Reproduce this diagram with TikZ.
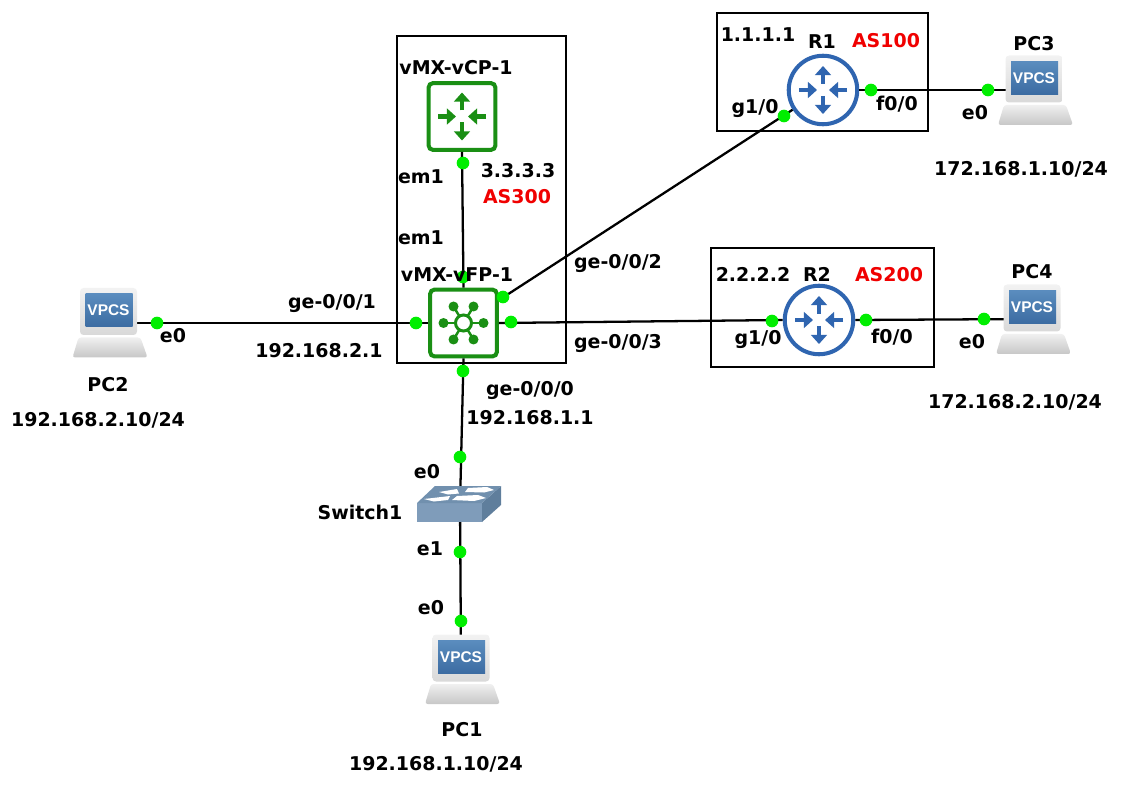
\documentclass[tikz,border=0pt]{standalone}
\usepackage{fontspec}
\setmainfont{DejaVu Sans}
\newfontfamily\screenfont{Liberation Sans}
\usetikzlibrary{arrows.meta}
\definecolor{portgreen}{HTML}{00EE00}
\definecolor{vmxgreen}{HTML}{1A8F14}
\definecolor{routerblue}{HTML}{2F65B0}
\definecolor{asred}{HTML}{F00000}
\definecolor{screentop}{HTML}{5A8CBE}
\definecolor{screenlow}{HTML}{3C6CA2}
\definecolor{swtop}{HTML}{7190AE}
\definecolor{swfront}{HTML}{7F9CBA}
\definecolor{swside}{HTML}{5F7E9C}
\tikzset{
    > = latex,
    link/.style={line width=1.3pt, black},
    port/.style={circle, fill=portgreen, inner sep=0, minimum size=7.2pt},
    lbl/.style={font=\fontsize{10.8}{13}\selectfont\bfseries, inner sep=0},
    aslbl/.style={lbl, text=asred},
    frame/.style={draw=black, line width=1.1pt},
    flow/.style={-{Triangle[length=5.2pt,width=9pt]}, line width=2.6pt},
    vmxbox/.style={draw=vmxgreen, fill=white, line width=2.3pt, rounded corners=2.5pt, minimum size=38pt, inner sep=0},
    routerbody/.style={circle, draw=routerblue, fill=white, line width=2.3pt, minimum size=39pt, inner sep=0},
    arrowcross/.pic={
        \draw[flow] (0,-6) -- (0,-24);
        \draw[flow] (0,6) -- (0,24);
        \draw[flow] (-24,0) -- (-6,0);
        \draw[flow] (24,0) -- (6,0);
    },
    hub/.pic={
        \foreach \a/\b in {-20/0,20/0,-10/-16.5,10/-16.5,-10/16.5,10/16.5} {
            \draw[vmxgreen, line width=1.4pt] (0,0) -- (\a,\b);
            \fill[vmxgreen] (\a,\b) circle (5);
        }
        \draw[vmxgreen, fill=white, line width=1.7pt] (0,0) circle (8);
    },
    vpcs/.pic={
        \shade[top color=black!6, bottom color=black!22, rounded corners=1.5pt] (-30,26) -- (32,26) -- (39,46) -- (-36,46) -- cycle;
        \shade[top color=black!5, bottom color=black!15, rounded corners=2pt] (-28.5,-23.5) rectangle (28.5,23.5);
        \shade[top color=screentop, bottom color=screenlow] (-23,-17.5) rectangle (24,15.5);
        \node[white, font=\screenfont\fontsize{8.8}{10}\selectfont\bfseries, inner sep=0] at (0,-1) {VPCS};
    },
    switchicon/.pic={
        \fill[swfront] (-43,-2) -- (22,-2) -- (22,17) -- (-43,17) -- cycle;
        \fill[swside] (22,-2) -- (41,-19) -- (41,0) -- (22,17) -- cycle;
        \fill[swtop] (-25,-19) -- (41,-19) -- (22,-2) -- (-43,-2) -- cycle;
        \fill[white] (-3,-16) -- (-21,-13) -- (-12,-10.5) -- (-1,-11.5) -- cycle;
        \fill[white] (8,-17) -- (27,-18) -- (34,-15) -- (24,-12.5) -- (5,-13) -- cycle;
        \fill[white] (-10,-9) -- (-36,-6) -- (-26,-3.5) -- (-12,-5) -- cycle;
        \fill[white] (-3,-9) -- (18,-10) -- (26,-7) -- (14,-4) -- (-8,-5) -- cycle;
    }
}

\begin{document}
\begin{tikzpicture}[x=.02cm, y=-.02cm]
        \useasboundingbox (0,0) rectangle (1123,787);
        % boxes
        \node[frame, minimum width=169*.02cm, minimum height=327*.02cm, inner sep=0] (vmxframe) at (481.5,199.5) {};
        \node[frame, minimum width=211*.02cm, minimum height=118*.02cm, inner sep=0] (r1frame) at (822.5,72) {};
        \node[frame, minimum width=223*.02cm, minimum height=119*.02cm, inner sep=0] (r2frame) at (822.5,307.5) {};
        % device centres
        \coordinate (pc1) at (461,658);
        \coordinate (pc2) at (108.5,311.5);
        \coordinate (pc3) at (1034,79);
        \coordinate (pc4) at (1032,308);
        \coordinate (pc4in) at (1032,319);
        \coordinate (switch1) at (460,505);
        \node[vmxbox] (vcp) at (462,116.5) {};
        \node[vmxbox] (vfp) at (463.5,323) {};
        \node[routerbody] (r1) at (823,90) {};
        \node[routerbody] (r2) at (819,320) {};
        % links
        \draw[link] (pc2 |- vfp) -- (vfp);
        \draw[link] (vcp.south) -- (vfp.north);
        \draw[link] (vfp.south) -- (switch1);
        \draw[link] (switch1) -- (pc1);
        \draw[link] (vfp) -- (r1);
        \draw[link] (vfp.east) -- (r2.west);
        \draw[link] (r1.east) -- (pc3 |- r1);
        \draw[link] (r2.east) -- (pc4in);
        % icons
        \pic[vmxgreen] at (vcp) {arrowcross};
        \pic at (vfp) {hub};
        \pic[routerblue] at (r1) {arrowcross};
        \pic[routerblue] at (r2) {arrowcross};
        \pic at (pc1) {vpcs};
        \pic at (pc2) {vpcs};
        \pic at (pc3) {vpcs};
        \pic at (pc4) {vpcs};
        \pic at (switch1) {switchicon};
        % ports
        \node[port] (vcpem) at (463,163) {};
        \node[port] (vfpem) at (463,277) {};
        \node[port] (vfpg2) at (503,297) {};
        \node[port] (vfpg1) at (416,323) {};
        \node[port] (vfpg3) at (511,322) {};
        \node[port] (vfpg0) at (463,371) {};
        \node[port] (pc2e) at (157,323) {};
        \node[port] (r1g) at (784,116) {};
        \node[port] (r1f) at (871,90) {};
        \node[port] (pc3e) at (988,90) {};
        \node[port] (r2g) at (772,321) {};
        \node[port] (r2f) at (866,320) {};
        \node[port] (pc4e) at (984,319) {};
        \node[port] (swe0) at (460,457) {};
        \node[port] (swe1) at (460,552) {};
        \node[port] (pc1e) at (461,621) {};
        % labels
        \node[lbl] (lvcp) at (456,68) {vMX-vCP-1};
        \node[lbl] (lem1) at (421,177) {em1};
        \node[lbl] (lid3) at (518,171) {3.3.3.3};
        \node[aslbl] (las3) at (517,197) {AS300};
        \node[lbl] (lem2) at (421,238) {em1};
        \node[lbl] (lvfp) at (457,275) {vMX-vFP-1};
        \node[lbl] (lg2) at (618,264) {ge-0/0/2};
        \node[lbl] (lg1) at (332,304) {ge-0/0/1};
        \node[lbl] (lip21) at (319,351) {192.168.2.1};
        \node[lbl] (lg3) at (618,344) {ge-0/0/3};
        \node[lbl] (lg0) at (530,391) {ge-0/0/0};
        \node[lbl] (lip11) at (530,418) {192.168.1.1};
        \node[lbl] (lpc2e) at (173,336) {e0};
        \node[lbl] (lpc2) at (108,385) {PC2};
        \node[lbl] (lpc2ip) at (98,420) {192.168.2.10/24};
        \node[lbl] (lswe0) at (427,472) {e0};
        \node[lbl] (lsw) at (360,512) {Switch1};
        \node[lbl] (lswe1) at (430,549) {e1};
        \node[lbl] (lpc1e) at (431,608) {e0};
        \node[lbl] (lpc1) at (462,730) {PC1};
        \node[lbl] (lpc1ip) at (436,764) {192.168.1.10/24};
        \node[lbl] (lid1) at (758,35) {1.1.1.1};
        \node[lbl] (lr1) at (822,42) {R1};
        \node[aslbl] (las1) at (886,41) {AS100};
        \node[lbl] (lr1g) at (755,109) {g1/0};
        \node[lbl] (lr1f) at (897,104) {f0/0};
        \node[lbl] (lpc3) at (1034,44) {PC3};
        \node[lbl] (lpc3e) at (975,113) {e0};
        \node[lbl] (lpc3ip) at (1021,169) {172.168.1.10/24};
        \node[lbl] (lid2) at (753,274) {2.2.2.2};
        \node[lbl] (lr2) at (817,274) {R2};
        \node[aslbl] (las2) at (889,275) {AS200};
        \node[lbl] (lr2g) at (758,340) {g1/0};
        \node[lbl] (lr2f) at (892,337) {f0/0};
        \node[lbl] (lpc4) at (1032,272) {PC4};
        \node[lbl] (lpc4e) at (972,342) {e0};
        \node[lbl] (lpc4ip) at (1015,402) {172.168.2.10/24};
\end{tikzpicture}
\end{document}
